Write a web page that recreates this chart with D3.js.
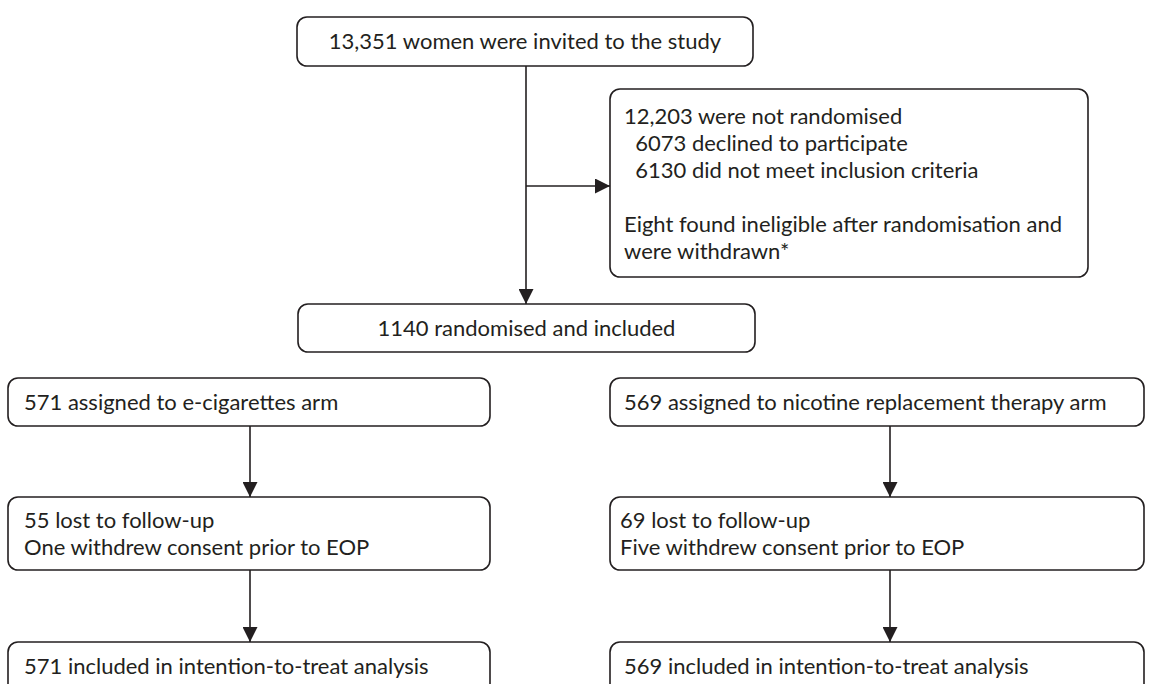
<!DOCTYPE html>
<html>
<head>
<meta charset="utf-8">
<script src="https://cdn.jsdelivr.net/npm/d3@7"></script>
<style>
  html, body { margin: 0; padding: 0; background: #fff; }
  svg { display: block; }
  text { font-family: Lato, "Open Sans", sans-serif; fill: #231f20; }
</style>
</head>
<body>
<svg id="chart" width="1152" height="684"></svg>
<script>
// ---- data (texts of the flow diagram) ----
const invitedText = ["13,351 women were invited to the study"];
const excludedText = [
  "12,203 were not randomised",
  "  6073 declined to participate",
  "  6130 did not meet inclusion criteria",
  "",
  "Eight found ineligible after randomisation and",
  "were withdrawn*"
];
const randomisedText = ["1140 randomised and included"];
const armLabels = ["e-cigarettes", "nicotine replacement therapy"];
const assignedText = ["571 assigned to e-cigarettes arm", "569 assigned to nicotine replacement therapy arm"];
const followUpText = [
  ["55 lost to follow-up", "One withdrew consent prior to EOP"],
  ["69 lost to follow-up", "Five withdrew consent prior to EOP"]
];
const analysedText = ["571 included in intention-to-treat analysis", "569 included in intention-to-treat analysis"];

// ---- layout ----
const svg = d3.select("#chart");
const stroke = "#231f20";
const fs = 22;
const lh = 27;

const defs = svg.append("defs");
defs.append("marker")
  .attr("id", "arrow")
  .attr("viewBox", "0 0 10 10")
  .attr("refX", 10).attr("refY", 5)
  .attr("markerWidth", 15).attr("markerHeight", 15)
  .attr("markerUnits", "userSpaceOnUse")
  .attr("orient", "auto")
  .append("path").attr("d", "M0,0 L10,5 L0,10 Z").attr("fill", stroke);

function box(x, y, w, h) {
  svg.append("rect")
    .attr("x", x).attr("y", y).attr("width", w).attr("height", h)
    .attr("rx", 10).attr("ry", 10)
    .attr("fill", "#fff").attr("stroke", stroke).attr("stroke-width", 1.6);
}
// y0 = centre of the first line
function lines(arr, x, y0, anchor) {
  const t = svg.append("g");
  arr.forEach((s, i) => {
    t.append("text")
      .attr("x", x).attr("y", y0 + i * lh)
      .attr("dy", "0.35em")
      .attr("text-anchor", anchor)
      .attr("font-size", fs)
      .attr("xml:space", "preserve")
      .style("white-space", "pre")
      .text(s);
  });
}
function centred(arr, x, yc, anchor) {
  lines(arr, x, yc - (arr.length - 1) * lh / 2, anchor);
}
function arrow(x1, y1, x2, y2) {
  svg.append("line")
    .attr("x1", x1).attr("y1", y1).attr("x2", x2).attr("y2", y2)
    .attr("stroke", stroke).attr("stroke-width", 1.6)
    .attr("marker-end", "url(#arrow)");
}

// Top column
const mainX = 526;
const b1 = {x: 297, y: 17, w: 456, h: 49};
const b2 = {x: 610, y: 89, w: 478, h: 188};
const b3 = {x: 298, y: 304, w: 457, h: 48};

arrow(mainX, b1.y + b1.h, mainX, b3.y);
arrow(mainX, 186, b2.x, 186);

box(b1.x, b1.y, b1.w, b1.h);
centred(invitedText, b1.x + b1.w / 2, b1.y + b1.h / 2, "middle");

box(b2.x, b2.y, b2.w, b2.h);
lines(excludedText, b2.x + 14, 116, "start");

box(b3.x, b3.y, b3.w, b3.h);
centred(randomisedText, b3.x + b3.w / 2, b3.y + b3.h / 2, "middle");

// Arms
const colX = d3.scaleOrdinal().domain(armLabels).range([8, 610]);
const colW = d3.scaleOrdinal().domain(armLabels).range([482, 534]);
const arrowX = d3.scaleOrdinal().domain(armLabels).range([250, 890]);
const rowA = {y: 378, h: 48};
const rowB = {y: 497, h: 73};
const rowC = {y: 642, h: 60};

armLabels.forEach((arm, i) => {
  const x = colX(arm), w = colW(arm), ax = arrowX(arm);
  arrow(ax, rowA.y + rowA.h, ax, rowB.y);
  arrow(ax, rowB.y + rowB.h, ax, rowC.y);
  box(x, rowA.y, w, rowA.h);
  centred([assignedText[i]], x + (i ? 14 : 16), rowA.y + rowA.h / 2, "start");
  box(x, rowB.y, w, rowB.h);
  centred(followUpText[i], x + (i ? 10 : 16), rowB.y + rowB.h / 2, "start");
  box(x, rowC.y, w, rowC.h);
  centred([analysedText[i]], x + (i ? 14 : 16), 666, "start");
});
</script>
</body>
</html>
